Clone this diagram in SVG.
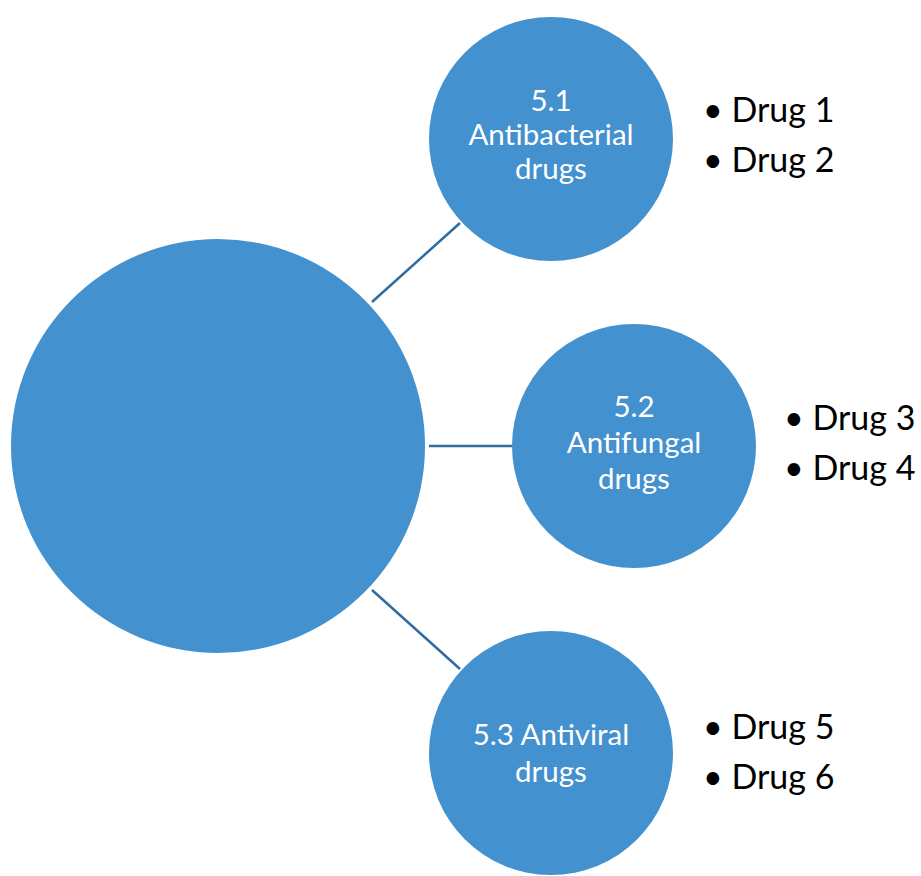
<svg xmlns="http://www.w3.org/2000/svg" width="921" height="876" viewBox="0 0 921 876">
<style>
.node{fill:#4391CE}
.lbl{fill:#FFFFFF;font-family:"Lato","Open Sans",sans-serif;font-size:29.5px;text-anchor:middle}
.item{fill:#000000;font-family:"Lato","Open Sans",sans-serif;font-size:34px}
.conn{stroke:#2F6C9F;stroke-width:2.5;fill:none}
</style>
<rect width="921" height="876" fill="#FFFFFF"/>
<g id="connectors">
<line class="conn" x1="372" y1="302" x2="460" y2="223"/>
<line class="conn" x1="429" y1="446" x2="512" y2="446"/>
<line class="conn" x1="372" y1="590" x2="460" y2="669"/>
</g>
<g id="main">
<circle class="node" cx="218" cy="446" r="207"/>
</g>
<g id="antibacterial">
<circle class="node" cx="551" cy="139" r="122"/>
<text class="lbl" x="551" y="111">5.1</text>
<text class="lbl" x="551" y="145">Antibacterial</text>
<text class="lbl" x="551" y="179">drugs</text>
</g>
<g id="antifungal">
<circle class="node" cx="634" cy="446" r="122"/>
<text class="lbl" x="634" y="417">5.2</text>
<text class="lbl" x="634" y="453">Antifungal</text>
<text class="lbl" x="634" y="489">drugs</text>
</g>
<g id="antiviral">
<circle class="node" cx="551" cy="753" r="122"/>
<text class="lbl" x="551" y="745">5.3 Antiviral</text>
<text class="lbl" x="551" y="782">drugs</text>
</g>
<g id="list1">
<text class="item" x="703" y="122">• Drug 1</text>
<text class="item" x="703" y="172">• Drug 2</text>
</g>
<g id="list2">
<text class="item" x="784" y="430">• Drug 3</text>
<text class="item" x="784" y="480">• Drug 4</text>
</g>
<g id="list3">
<text class="item" x="703" y="739">• Drug 5</text>
<text class="item" x="703" y="789">• Drug 6</text>
</g>
</svg>
